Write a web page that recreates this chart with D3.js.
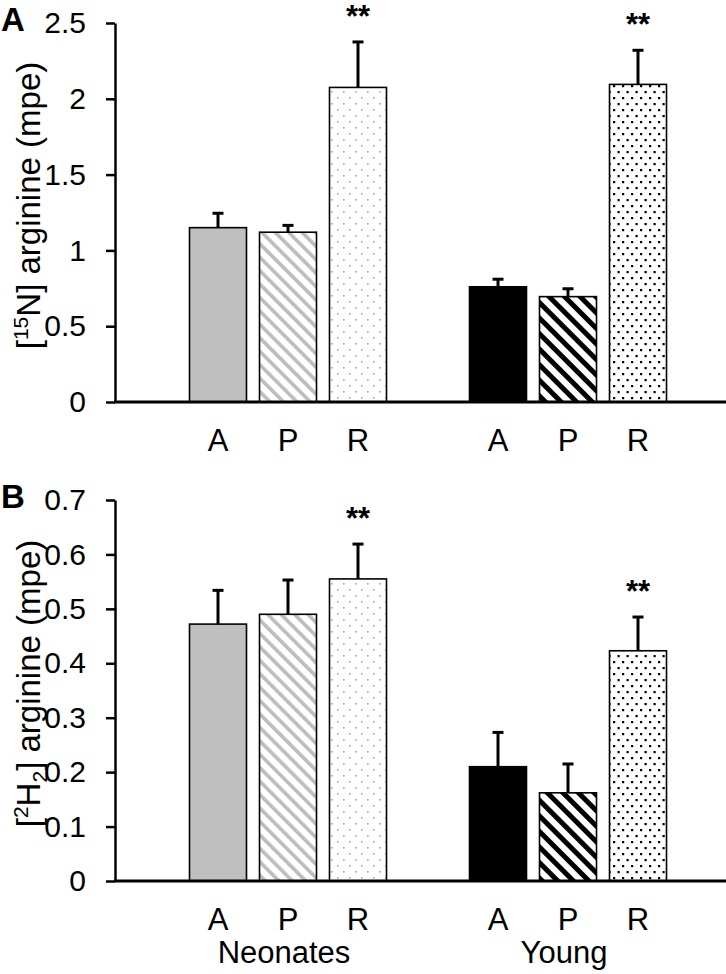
<!DOCTYPE html>
<html>
<head>
<meta charset="utf-8">
<script src="https://cdn.jsdelivr.net/npm/d3@7"></script>
<style>
  html, body { margin: 0; padding: 0; background: #fff; }
  svg { display: block; }
  text { font-family: "Liberation Sans", Arial, sans-serif; fill: #000; }
</style>
</head>
<body>
<svg id="chart" width="726" height="974"></svg>
<script>
// ---------- data ----------
const groups = ["Neonates", "Young"];
const series = ["A", "P", "R"];

// Panel A: [15N] arginine (mpe)
const n15Neonates = [1.15, 1.12, 2.075];
const n15NeonatesErr = [0.095, 0.045, 0.30];
const n15Young = [0.76, 0.695, 2.095];
const n15YoungErr = [0.05, 0.052, 0.225];
const n15Sig = [["Neonates", "R"], ["Young", "R"]];
const n15Ticks = [0, 0.5, 1, 1.5, 2, 2.5];
const n15TickLabels = ["0", "0.5", "1", "1.5", "2", "2.5"];

// Panel B: [2H2] arginine (mpe)
const h2Neonates = [0.472, 0.49, 0.555];
const h2NeonatesErr = [0.062, 0.063, 0.064];
const h2Young = [0.21, 0.162, 0.423];
const h2YoungErr = [0.063, 0.053, 0.062];
const h2Sig = [["Neonates", "R"], ["Young", "R"]];
const h2Ticks = [0, 0.1, 0.2, 0.3, 0.4, 0.5, 0.6, 0.7];
const h2TickLabels = ["0", "0.1", "0.2", "0.3", "0.4", "0.5", "0.6", "0.7"];

// ---------- setup ----------
const svg = d3.select("#chart");
const W = 726;
const CATFONT = 31;
const TITLEFONT = 33;
const axisX = 115;

const defs = svg.append("defs");
function stripes(id, color, period, thick) {
  const p = defs.append("pattern").attr("id", id)
    .attr("patternUnits", "userSpaceOnUse")
    .attr("width", period).attr("height", period)
    .attr("patternTransform", "rotate(-45)");
  p.append("rect").attr("width", period).attr("height", period).attr("fill", "#fff");
  p.append("rect").attr("x", 0).attr("y", 0).attr("width", thick).attr("height", period).attr("fill", color);
}
function dots(id, color, w, h, size) {
  const p = defs.append("pattern").attr("id", id)
    .attr("patternUnits", "userSpaceOnUse")
    .attr("width", w).attr("height", h);
  p.append("rect").attr("width", w).attr("height", h).attr("fill", "#fff");
  p.append("rect").attr("x", 1).attr("y", 1).attr("width", size).attr("height", size).attr("fill", color);
  p.append("rect").attr("x", 1 + w / 2).attr("y", 1 + h / 2).attr("width", size).attr("height", size).attr("fill", color);
}
stripes("stripeGray", "#bdbdbd", 9.5, 3.6);
stripes("stripeBlack", "#000", 11, 5);
dots("dotGray", "#a6a6a6", 12, 12, 1.6);
dots("dotBlack", "#000", 9, 12, 2.2);

const fills = {
  "Neonates-A": "#bfbfbf",
  "Neonates-P": "url(#stripeGray)",
  "Neonates-R": "url(#dotGray)",
  "Young-A": "#000",
  "Young-P": "url(#stripeBlack)",
  "Young-R": "url(#dotBlack)"
};

const x0 = d3.scaleBand().domain(groups).range([148, 708]).paddingInner(0).paddingOuter(0);
const x1 = d3.scaleBand().domain(series)
  .range([41.5, x0.bandwidth() - 41.5])
  .paddingInner(13 / 70).paddingOuter(0);

function panel(opts) {
  const g = svg.append("g");
  const y = d3.scaleLinear().domain([0, opts.max]).range([opts.y0, opts.yTop]);

  const rows = [];
  groups.forEach((grp, gi) => {
    const vals = opts.values[gi], errs = opts.errs[gi];
    series.forEach((s, si) => rows.push({ grp, s, v: vals[si], e: errs[si] }));
  });

  // bars
  g.selectAll("rect.bar").data(rows).join("rect")
    .attr("class", "bar")
    .attr("x", d => x0(d.grp) + x1(d.s))
    .attr("width", x1.bandwidth())
    .attr("y", d => y(d.v))
    .attr("height", d => y(0) - y(d.v))
    .attr("fill", d => fills[d.grp + "-" + d.s])
    .attr("stroke", "#000")
    .attr("stroke-width", 1.6);

  // error bars (upper)
  const cx = d => x0(d.grp) + x1(d.s) + x1.bandwidth() / 2;
  g.selectAll("line.err").data(rows).join("line")
    .attr("x1", cx).attr("x2", cx)
    .attr("y1", d => y(d.v)).attr("y2", d => y(d.v + d.e))
    .attr("stroke", "#000").attr("stroke-width", 3);
  g.selectAll("line.cap").data(rows).join("line")
    .attr("x1", d => cx(d) - 5.5).attr("x2", d => cx(d) + 5.5)
    .attr("y1", d => y(d.v + d.e)).attr("y2", d => y(d.v + d.e))
    .attr("stroke", "#000").attr("stroke-width", 3);

  // significance
  const sigRows = rows.filter(r => opts.sig.some(([gg, ss]) => gg === r.grp && ss === r.s));
  g.selectAll("text.sig").data(sigRows).join("text")
    .attr("x", cx)
    .attr("y", d => y(d.v + d.e) - 15)
    .attr("text-anchor", "middle")
    .attr("font-size", 31).attr("font-weight", "bold")
    .text("**");

  // y axis
  const ax = g.append("g").attr("transform", `translate(${axisX},0)`)
    .call(d3.axisLeft(y).tickValues(opts.ticks)
      .tickFormat((d, i) => opts.tickLabels[i]).tickSize(9).tickPadding(20).tickSizeOuter(0));
  ax.select(".domain").attr("stroke", "#000").attr("stroke-width", 2.5);
  ax.selectAll(".tick line").attr("stroke", "#000").attr("stroke-width", 2.5);
  ax.selectAll(".tick text").attr("font-size", 30)
    .attr("font-family", "'Liberation Sans', Arial, sans-serif").attr("fill", "#000");

  // baseline
  g.append("line").attr("x1", axisX - 1).attr("x2", W)
    .attr("y1", y(0)).attr("y2", y(0))
    .attr("stroke", "#000").attr("stroke-width", 3);

  // category labels
  g.selectAll("text.cat").data(rows).join("text")
    .attr("x", cx).attr("y", y(0) + 49)
    .attr("text-anchor", "middle").attr("font-size", CATFONT)
    .text(d => d.s);

  if (opts.groupLabels) {
    g.selectAll("text.grp").data(groups).join("text")
      .attr("x", d => x0(d) + x0.bandwidth() / 2 - 4)
      .attr("y", y(0) + 82)
      .attr("text-anchor", "middle").attr("font-size", CATFONT)
      .text(d => d);
  }

  // y title
  const t = g.append("text")
    .attr("transform", `translate(40,${(opts.y0 + opts.yTop) / 2 - 7}) rotate(-90)`)
    .attr("text-anchor", "middle").attr("font-size", TITLEFONT);
  opts.title(t);

  // panel letter
  g.append("text").attr("x", 1).attr("y", opts.yTop + 8)
    .attr("font-size", 33).attr("font-weight", "bold").text(opts.letter);
}

panel({
  max: 2.5, y0: 402, yTop: 23,
  values: [n15Neonates, n15Young], errs: [n15NeonatesErr, n15YoungErr],
  sig: n15Sig, ticks: n15Ticks, tickLabels: n15TickLabels,
  letter: "A", groupLabels: false,
  title: t => {
    t.append("tspan").text("[");
    t.append("tspan").attr("font-size", 21).attr("dy", -12).text("15");
    t.append("tspan").attr("dy", 12).text("N] arginine (mpe)");
  }
});

panel({
  max: 0.7, y0: 881, yTop: 500,
  values: [h2Neonates, h2Young], errs: [h2NeonatesErr, h2YoungErr],
  sig: h2Sig, ticks: h2Ticks, tickLabels: h2TickLabels,
  letter: "B", groupLabels: true,
  title: t => {
    t.append("tspan").text("[");
    t.append("tspan").attr("font-size", 21).attr("dy", -12).text("2");
    t.append("tspan").attr("dy", 12).text("H");
    t.append("tspan").attr("font-size", 21).attr("dy", 7).text("2");
    t.append("tspan").attr("dy", -7).text("] arginine (mpe)");
  }
});
</script>
</body>
</html>
